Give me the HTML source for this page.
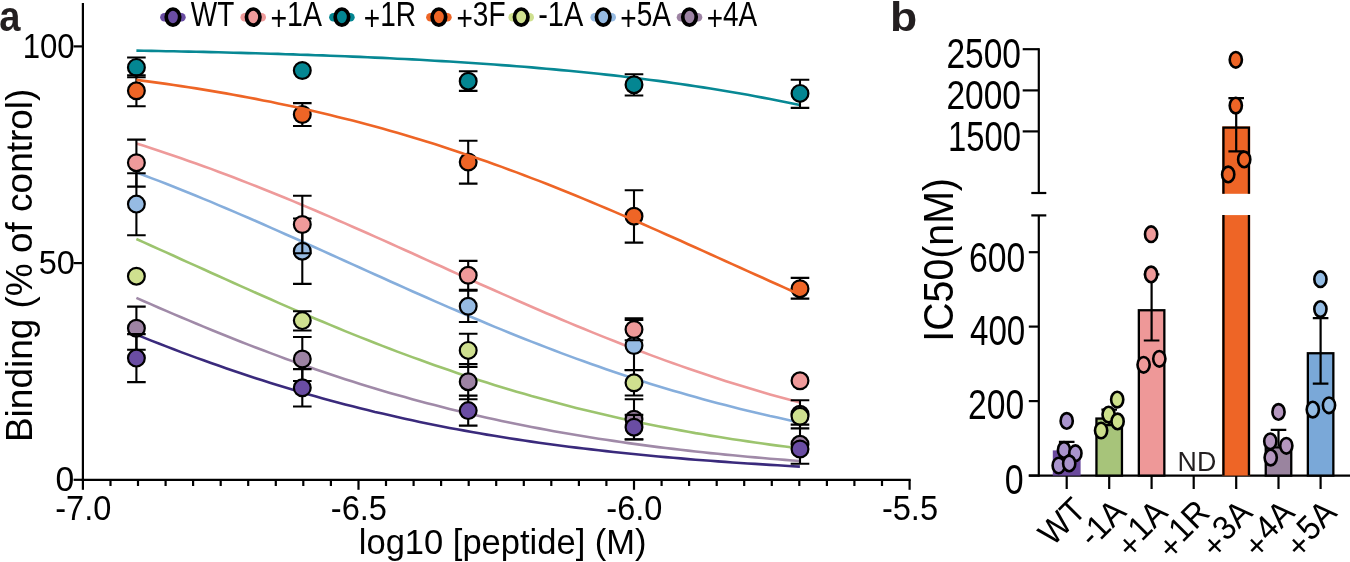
<!DOCTYPE html><html><head><meta charset="utf-8"><style>html,body{margin:0;padding:0;background:#fff;width:1350px;height:562px;overflow:hidden}</style></head><body><svg width="1350" height="562" viewBox="0 0 1350 562" style="display:block;will-change:transform" font-family='"Liberation Sans", sans-serif'>
<rect width="1350" height="562" fill="#fff"/>
<text transform="translate(-0.84,31.18) scale(0.9075,1)" font-size="42.01" fill="#231f20" font-weight="bold">a</text>
<g stroke="#000" stroke-width="2.2" fill="none">
<path d="M82.9,3 V480.9"/>
<path d="M81.8,479.8 H910.7"/>
<path d="M73.6,479.8 H82.9"/>
<path d="M73.6,263.1 H82.9"/>
<path d="M73.6,46.4 H82.9"/>
<path d="M82.9,479.8 V489.8"/>
<path d="M110.5,479.8 V486.0"/>
<path d="M138.0,479.8 V486.0"/>
<path d="M165.6,479.8 V486.0"/>
<path d="M193.1,479.8 V486.0"/>
<path d="M220.7,479.8 V486.0"/>
<path d="M248.2,479.8 V486.0"/>
<path d="M275.8,479.8 V486.0"/>
<path d="M303.3,479.8 V486.0"/>
<path d="M330.9,479.8 V486.0"/>
<path d="M358.5,479.8 V489.8"/>
<path d="M386.0,479.8 V486.0"/>
<path d="M413.6,479.8 V486.0"/>
<path d="M441.1,479.8 V486.0"/>
<path d="M468.7,479.8 V486.0"/>
<path d="M496.2,479.8 V486.0"/>
<path d="M523.8,479.8 V486.0"/>
<path d="M551.3,479.8 V486.0"/>
<path d="M578.9,479.8 V486.0"/>
<path d="M606.4,479.8 V486.0"/>
<path d="M634.0,479.8 V489.8"/>
<path d="M661.6,479.8 V486.0"/>
<path d="M689.1,479.8 V486.0"/>
<path d="M716.7,479.8 V486.0"/>
<path d="M744.2,479.8 V486.0"/>
<path d="M771.8,479.8 V486.0"/>
<path d="M799.3,479.8 V486.0"/>
<path d="M826.9,479.8 V486.0"/>
<path d="M854.4,479.8 V486.0"/>
<path d="M882.0,479.8 V486.0"/>
<path d="M909.6,479.8 V489.8"/>
</g>
<text transform="translate(22.66,57.55) scale(0.8862,1)" font-size="35.19" fill="#000">100</text>
<text transform="translate(38.70,273.96) scale(0.9593,1)" font-size="33.92" fill="#000">50</text>
<text transform="translate(55.45,491.25) scale(0.9697,1)" font-size="34.77" fill="#000">0</text>
<text transform="translate(55.23,520.25) scale(0.9289,1)" font-size="35.05" fill="#000">-7.0</text>
<text transform="translate(330.78,520.25) scale(0.9303,1)" font-size="35.05" fill="#000">-6.5</text>
<text transform="translate(606.33,520.25) scale(0.9289,1)" font-size="35.05" fill="#000">-6.0</text>
<text transform="translate(881.88,520.24) scale(0.9172,1)" font-size="35.56" fill="#000">-5.5</text>
<text transform="translate(358.77,554.09) scale(0.9938,1)" font-size="34.75" fill="#000">log10 [peptide] (M)</text>
<text transform="translate(32.48,442.05) rotate(-90) scale(1.0198,1)" font-size="36.25" fill="#000">Binding (% of control)</text>
<path d="M136.4,297.9 L143.9,301.2 L151.3,304.4 L158.8,307.7 L166.2,310.9 L173.7,314.1 L181.1,317.3 L188.6,320.4 L196.0,323.5 L203.5,326.6 L211.0,329.7 L218.4,332.7 L225.9,335.8 L233.3,338.7 L240.8,341.7 L248.2,344.6 L255.7,347.5 L263.1,350.3 L270.6,353.1 L278.0,355.9 L285.5,358.7 L293.0,361.4 L300.4,364.0 L307.9,366.6 L315.3,369.2 L322.8,371.8 L330.2,374.3 L337.7,376.7 L345.1,379.2 L352.6,381.6 L360.1,383.9 L367.5,386.2 L375.0,388.5 L382.4,390.7 L389.9,392.9 L397.3,395.0 L404.8,397.1 L412.2,399.2 L419.7,401.2 L427.1,403.2 L434.6,405.1 L442.1,407.1 L449.5,408.9 L457.0,410.7 L464.4,412.5 L471.9,414.3 L479.3,416.0 L486.8,417.7 L494.2,419.3 L501.7,420.9 L509.2,422.5 L516.6,424.0 L524.1,425.5 L531.5,427.0 L539.0,428.4 L546.4,429.8 L553.9,431.2 L561.3,432.5 L568.8,433.8 L576.2,435.0 L583.7,436.3 L591.2,437.5 L598.6,438.7 L606.1,439.8 L613.5,440.9 L621.0,442.0 L628.4,443.1 L635.9,444.1 L643.3,445.1 L650.8,446.1 L658.3,447.1 L665.7,448.0 L673.2,448.9 L680.6,449.8 L688.1,450.6 L695.5,451.5 L703.0,452.3 L710.4,453.1 L717.9,453.8 L725.3,454.6 L732.8,455.3 L740.3,456.0 L747.7,456.7 L755.2,457.4 L762.6,458.0 L770.1,458.7 L777.5,459.3 L785.0,459.9 L792.4,460.5 L799.9,461.0" fill="none" stroke="#a08aa8" stroke-width="2.6"/>
<path d="M136.4,172.4 L143.9,175.2 L151.3,178.1 L158.8,180.9 L166.2,183.8 L173.7,186.8 L181.1,189.8 L188.6,192.8 L196.0,195.8 L203.5,198.9 L211.0,201.9 L218.4,205.1 L225.9,208.2 L233.3,211.4 L240.8,214.6 L248.2,217.8 L255.7,221.0 L263.1,224.3 L270.6,227.6 L278.0,230.9 L285.5,234.2 L293.0,237.5 L300.4,240.8 L307.9,244.2 L315.3,247.5 L322.8,250.9 L330.2,254.2 L337.7,257.6 L345.1,261.0 L352.6,264.4 L360.1,267.7 L367.5,271.1 L375.0,274.5 L382.4,277.8 L389.9,281.2 L397.3,284.5 L404.8,287.9 L412.2,291.2 L419.7,294.5 L427.1,297.8 L434.6,301.1 L442.1,304.4 L449.5,307.6 L457.0,310.8 L464.4,314.0 L471.9,317.2 L479.3,320.3 L486.8,323.5 L494.2,326.6 L501.7,329.6 L509.2,332.7 L516.6,335.7 L524.1,338.7 L531.5,341.6 L539.0,344.5 L546.4,347.4 L553.9,350.3 L561.3,353.1 L568.8,355.9 L576.2,358.6 L583.7,361.3 L591.2,364.0 L598.6,366.6 L606.1,369.2 L613.5,371.7 L621.0,374.2 L628.4,376.7 L635.9,379.1 L643.3,381.5 L650.8,383.9 L658.3,386.2 L665.7,388.4 L673.2,390.7 L680.6,392.8 L688.1,395.0 L695.5,397.1 L703.0,399.2 L710.4,401.2 L717.9,403.2 L725.3,405.1 L732.8,407.0 L740.3,408.9 L747.7,410.7 L755.2,412.5 L762.6,414.2 L770.1,416.0 L777.5,417.6 L785.0,419.3 L792.4,420.9 L799.9,422.5" fill="none" stroke="#86aedc" stroke-width="2.6"/>
<path d="M136.4,239.0 L143.9,242.4 L151.3,245.7 L158.8,249.1 L166.2,252.4 L173.7,255.8 L181.1,259.2 L188.6,262.6 L196.0,265.9 L203.5,269.3 L211.0,272.7 L218.4,276.0 L225.9,279.4 L233.3,282.7 L240.8,286.1 L248.2,289.4 L255.7,292.7 L263.1,296.0 L270.6,299.3 L278.0,302.6 L285.5,305.9 L293.0,309.1 L300.4,312.3 L307.9,315.5 L315.3,318.7 L322.8,321.8 L330.2,324.9 L337.7,328.0 L345.1,331.1 L352.6,334.1 L360.1,337.1 L367.5,340.0 L375.0,343.0 L382.4,345.9 L389.9,348.7 L397.3,351.6 L404.8,354.4 L412.2,357.1 L419.7,359.8 L427.1,362.5 L434.6,365.2 L442.1,367.8 L449.5,370.3 L457.0,372.9 L464.4,375.4 L471.9,377.8 L479.3,380.2 L486.8,382.6 L494.2,384.9 L501.7,387.2 L509.2,389.5 L516.6,391.7 L524.1,393.8 L531.5,396.0 L539.0,398.0 L546.4,400.1 L553.9,402.1 L561.3,404.1 L568.8,406.0 L576.2,407.9 L583.7,409.7 L591.2,411.5 L598.6,413.3 L606.1,415.0 L613.5,416.7 L621.0,418.4 L628.4,420.0 L635.9,421.6 L643.3,423.2 L650.8,424.7 L658.3,426.2 L665.7,427.6 L673.2,429.0 L680.6,430.4 L688.1,431.7 L695.5,433.1 L703.0,434.3 L710.4,435.6 L717.9,436.8 L725.3,438.0 L732.8,439.2 L740.3,440.3 L747.7,441.4 L755.2,442.5 L762.6,443.5 L770.1,444.6 L777.5,445.6 L785.0,446.5 L792.4,447.5 L799.9,448.4" fill="none" stroke="#9cc46e" stroke-width="2.6"/>
<path d="M136.4,143.5 L143.9,145.8 L151.3,148.2 L158.8,150.7 L166.2,153.2 L173.7,155.7 L181.1,158.3 L188.6,160.9 L196.0,163.5 L203.5,166.2 L211.0,168.9 L218.4,171.7 L225.9,174.5 L233.3,177.3 L240.8,180.2 L248.2,183.1 L255.7,186.0 L263.1,189.0 L270.6,192.0 L278.0,195.0 L285.5,198.0 L293.0,201.1 L300.4,204.2 L307.9,207.4 L315.3,210.5 L322.8,213.7 L330.2,216.9 L337.7,220.2 L345.1,223.4 L352.6,226.7 L360.1,230.0 L367.5,233.3 L375.0,236.6 L382.4,239.9 L389.9,243.3 L397.3,246.6 L404.8,250.0 L412.2,253.3 L419.7,256.7 L427.1,260.1 L434.6,263.5 L442.1,266.8 L449.5,270.2 L457.0,273.6 L464.4,276.9 L471.9,280.3 L479.3,283.7 L486.8,287.0 L494.2,290.3 L501.7,293.6 L509.2,296.9 L516.6,300.2 L524.1,303.5 L531.5,306.7 L539.0,310.0 L546.4,313.2 L553.9,316.3 L561.3,319.5 L568.8,322.6 L576.2,325.7 L583.7,328.8 L591.2,331.9 L598.6,334.9 L606.1,337.9 L613.5,340.8 L621.0,343.8 L628.4,346.7 L635.9,349.5 L643.3,352.3 L650.8,355.1 L658.3,357.9 L665.7,360.6 L673.2,363.2 L680.6,365.9 L688.1,368.5 L695.5,371.0 L703.0,373.6 L710.4,376.0 L717.9,378.5 L725.3,380.9 L732.8,383.2 L740.3,385.5 L747.7,387.8 L755.2,390.1 L762.6,392.3 L770.1,394.4 L777.5,396.5 L785.0,398.6 L792.4,400.6 L799.9,402.6" fill="none" stroke="#ee9a9a" stroke-width="2.6"/>
<path d="M136.4,334.6 L143.9,337.6 L151.3,340.6 L158.8,343.5 L166.2,346.4 L173.7,349.2 L181.1,352.1 L188.6,354.9 L196.0,357.6 L203.5,360.3 L211.0,363.0 L218.4,365.6 L225.9,368.2 L233.3,370.8 L240.8,373.3 L248.2,375.8 L255.7,378.2 L263.1,380.6 L270.6,383.0 L278.0,385.3 L285.5,387.6 L293.0,389.8 L300.4,392.0 L307.9,394.2 L315.3,396.3 L322.8,398.4 L330.2,400.4 L337.7,402.4 L345.1,404.4 L352.6,406.3 L360.1,408.2 L367.5,410.0 L375.0,411.9 L382.4,413.6 L389.9,415.3 L397.3,417.0 L404.8,418.7 L412.2,420.3 L419.7,421.9 L427.1,423.4 L434.6,424.9 L442.1,426.4 L449.5,427.9 L457.0,429.3 L464.4,430.6 L471.9,432.0 L479.3,433.3 L486.8,434.6 L494.2,435.8 L501.7,437.0 L509.2,438.2 L516.6,439.4 L524.1,440.5 L531.5,441.6 L539.0,442.7 L546.4,443.7 L553.9,444.7 L561.3,445.7 L568.8,446.7 L576.2,447.6 L583.7,448.5 L591.2,449.4 L598.6,450.3 L606.1,451.1 L613.5,452.0 L621.0,452.8 L628.4,453.5 L635.9,454.3 L643.3,455.0 L650.8,455.8 L658.3,456.5 L665.7,457.1 L673.2,457.8 L680.6,458.4 L688.1,459.1 L695.5,459.7 L703.0,460.3 L710.4,460.8 L717.9,461.4 L725.3,461.9 L732.8,462.5 L740.3,463.0 L747.7,463.5 L755.2,463.9 L762.6,464.4 L770.1,464.9 L777.5,465.3 L785.0,465.7 L792.4,466.2 L799.9,466.6" fill="none" stroke="#3a2a7c" stroke-width="2.6"/>
<path d="M136.4,50.6 L143.9,50.7 L151.3,50.9 L158.8,51.0 L166.2,51.2 L173.7,51.3 L181.1,51.5 L188.6,51.6 L196.0,51.8 L203.5,51.9 L211.0,52.1 L218.4,52.3 L225.9,52.5 L233.3,52.7 L240.8,52.9 L248.2,53.1 L255.7,53.3 L263.1,53.5 L270.6,53.7 L278.0,53.9 L285.5,54.2 L293.0,54.4 L300.4,54.7 L307.9,54.9 L315.3,55.2 L322.8,55.4 L330.2,55.7 L337.7,56.0 L345.1,56.3 L352.6,56.6 L360.1,56.9 L367.5,57.3 L375.0,57.6 L382.4,57.9 L389.9,58.3 L397.3,58.7 L404.8,59.0 L412.2,59.4 L419.7,59.8 L427.1,60.2 L434.6,60.7 L442.1,61.1 L449.5,61.5 L457.0,62.0 L464.4,62.5 L471.9,63.0 L479.3,63.5 L486.8,64.0 L494.2,64.5 L501.7,65.1 L509.2,65.6 L516.6,66.2 L524.1,66.8 L531.5,67.4 L539.0,68.1 L546.4,68.7 L553.9,69.4 L561.3,70.1 L568.8,70.8 L576.2,71.5 L583.7,72.2 L591.2,73.0 L598.6,73.8 L606.1,74.6 L613.5,75.4 L621.0,76.3 L628.4,77.2 L635.9,78.1 L643.3,79.0 L650.8,80.0 L658.3,80.9 L665.7,81.9 L673.2,83.0 L680.6,84.0 L688.1,85.1 L695.5,86.2 L703.0,87.4 L710.4,88.5 L717.9,89.7 L725.3,91.0 L732.8,92.2 L740.3,93.5 L747.7,94.8 L755.2,96.2 L762.6,97.6 L770.1,99.0 L777.5,100.5 L785.0,102.0 L792.4,103.5 L799.9,105.0" fill="none" stroke="#078894" stroke-width="2.6"/>
<path d="M136.4,306.6 V349.8 M127.1,306.6 H145.7 M127.1,349.8 H145.7" stroke="#000" stroke-width="2.1" fill="none"/>
<circle cx="136.4" cy="328.2" r="8.4" fill="#9d83a3" stroke="#000" stroke-width="2.2"/>
<path d="M302.3,337.0 V381.0 M293.0,337.0 H311.6 M293.0,381.0 H311.6" stroke="#000" stroke-width="2.1" fill="none"/>
<circle cx="302.3" cy="359.0" r="8.4" fill="#9d83a3" stroke="#000" stroke-width="2.2"/>
<path d="M468.2,364.1 V399.3 M458.9,364.1 H477.5 M458.9,399.3 H477.5" stroke="#000" stroke-width="2.1" fill="none"/>
<circle cx="468.2" cy="381.7" r="8.4" fill="#9d83a3" stroke="#000" stroke-width="2.2"/>
<path d="M634.0,399.2 V439.2 M624.7,399.2 H643.3 M624.7,439.2 H643.3" stroke="#000" stroke-width="2.1" fill="none"/>
<circle cx="634.0" cy="419.2" r="8.4" fill="#9d83a3" stroke="#000" stroke-width="2.2"/>
<path d="M800.0,424.6 V463.7 M790.7,424.6 H809.3 M790.7,463.7 H809.3" stroke="#000" stroke-width="2.1" fill="none"/>
<circle cx="800.0" cy="444.3" r="8.4" fill="#9d83a3" stroke="#000" stroke-width="2.2"/>
<path d="M136.4,173.3 V235.3 M127.1,173.3 H145.7 M127.1,235.3 H145.7" stroke="#000" stroke-width="2.1" fill="none"/>
<circle cx="136.4" cy="204.1" r="8.4" fill="#96bbe3" stroke="#000" stroke-width="2.2"/>
<path d="M302.3,218.5 V283.9 M293.0,218.5 H311.6 M293.0,283.9 H311.6" stroke="#000" stroke-width="2.1" fill="none"/>
<circle cx="302.3" cy="251.2" r="8.4" fill="#96bbe3" stroke="#000" stroke-width="2.2"/>
<path d="M468.2,290.6 V322.0 M458.9,290.6 H477.5 M458.9,322.0 H477.5" stroke="#000" stroke-width="2.1" fill="none"/>
<circle cx="468.2" cy="306.3" r="8.4" fill="#96bbe3" stroke="#000" stroke-width="2.2"/>
<path d="M634.0,320.0 V370.0 M624.7,320.0 H643.3 M624.7,370.0 H643.3" stroke="#000" stroke-width="2.1" fill="none"/>
<circle cx="634.0" cy="345.5" r="8.4" fill="#96bbe3" stroke="#000" stroke-width="2.2"/>
<path d="M800.0,400.2 V428.4 M790.7,400.2 H809.3 M790.7,428.4 H809.3" stroke="#000" stroke-width="2.1" fill="none"/>
<circle cx="800.0" cy="414.3" r="8.4" fill="#96bbe3" stroke="#000" stroke-width="2.2"/>
<circle cx="136.4" cy="276.2" r="8.4" fill="#cfe08f" stroke="#000" stroke-width="2.2"/>
<path d="M302.3,311.3 V330.5 M293.0,311.3 H311.6 M293.0,330.5 H311.6" stroke="#000" stroke-width="2.1" fill="none"/>
<circle cx="302.3" cy="320.6" r="8.4" fill="#cfe08f" stroke="#000" stroke-width="2.2"/>
<path d="M468.2,333.8 V367.0 M458.9,333.8 H477.5 M458.9,367.0 H477.5" stroke="#000" stroke-width="2.1" fill="none"/>
<circle cx="468.2" cy="350.4" r="8.4" fill="#cfe08f" stroke="#000" stroke-width="2.2"/>
<path d="M634.0,370.1 V395.5 M624.7,370.1 H643.3 M624.7,395.5 H643.3" stroke="#000" stroke-width="2.1" fill="none"/>
<circle cx="634.0" cy="382.8" r="8.4" fill="#cfe08f" stroke="#000" stroke-width="2.2"/>
<circle cx="800.0" cy="416.3" r="8.4" fill="#cfe08f" stroke="#000" stroke-width="2.2"/>
<path d="M136.4,57.5 V77.3 M127.1,57.5 H145.7 M127.1,77.3 H145.7" stroke="#000" stroke-width="2.1" fill="none"/>
<circle cx="136.4" cy="67.4" r="8.4" fill="#048692" stroke="#000" stroke-width="2.2"/>
<circle cx="302.3" cy="70.5" r="8.4" fill="#048692" stroke="#000" stroke-width="2.2"/>
<path d="M468.2,71.2 V90.9 M458.9,71.2 H477.5 M458.9,90.9 H477.5" stroke="#000" stroke-width="2.1" fill="none"/>
<circle cx="468.2" cy="81.2" r="8.4" fill="#048692" stroke="#000" stroke-width="2.2"/>
<path d="M634.0,74.2 V95.5 M624.7,74.2 H643.3 M624.7,95.5 H643.3" stroke="#000" stroke-width="2.1" fill="none"/>
<circle cx="634.0" cy="84.7" r="8.4" fill="#048692" stroke="#000" stroke-width="2.2"/>
<path d="M800.0,79.8 V107.9 M790.7,79.8 H809.3 M790.7,107.9 H809.3" stroke="#000" stroke-width="2.1" fill="none"/>
<circle cx="800.0" cy="93.4" r="8.4" fill="#048692" stroke="#000" stroke-width="2.2"/>
<path d="M136.4,139.6 V186.6 M127.1,139.6 H145.7 M127.1,186.6 H145.7" stroke="#000" stroke-width="2.1" fill="none"/>
<circle cx="136.4" cy="162.7" r="8.4" fill="#ef9a9a" stroke="#000" stroke-width="2.2"/>
<path d="M302.3,195.7 V253.3 M293.0,195.7 H311.6 M293.0,253.3 H311.6" stroke="#000" stroke-width="2.1" fill="none"/>
<circle cx="302.3" cy="224.5" r="8.4" fill="#ef9a9a" stroke="#000" stroke-width="2.2"/>
<path d="M468.2,260.9 V289.7 M458.9,260.9 H477.5 M458.9,289.7 H477.5" stroke="#000" stroke-width="2.1" fill="none"/>
<circle cx="468.2" cy="275.3" r="8.4" fill="#ef9a9a" stroke="#000" stroke-width="2.2"/>
<path d="M634.0,318.2 V340.2 M624.7,318.2 H643.3 M624.7,340.2 H643.3" stroke="#000" stroke-width="2.1" fill="none"/>
<circle cx="634.0" cy="329.5" r="8.4" fill="#ef9a9a" stroke="#000" stroke-width="2.2"/>
<circle cx="800.0" cy="380.8" r="8.4" fill="#ef9a9a" stroke="#000" stroke-width="2.2"/>
<path d="M136.4,334.1 V382.1 M127.1,334.1 H145.7 M127.1,382.1 H145.7" stroke="#000" stroke-width="2.1" fill="none"/>
<circle cx="136.4" cy="358.1" r="8.4" fill="#6a4da3" stroke="#000" stroke-width="2.2"/>
<path d="M302.3,369.1 V406.5 M293.0,369.1 H311.6 M293.0,406.5 H311.6" stroke="#000" stroke-width="2.1" fill="none"/>
<circle cx="302.3" cy="387.8" r="8.4" fill="#6a4da3" stroke="#000" stroke-width="2.2"/>
<path d="M468.2,395.6 V425.6 M458.9,395.6 H477.5 M458.9,425.6 H477.5" stroke="#000" stroke-width="2.1" fill="none"/>
<circle cx="468.2" cy="410.6" r="8.4" fill="#6a4da3" stroke="#000" stroke-width="2.2"/>
<path d="M634.0,414.9 V439.5 M624.7,414.9 H643.3 M624.7,439.5 H643.3" stroke="#000" stroke-width="2.1" fill="none"/>
<circle cx="634.0" cy="427.2" r="8.4" fill="#6a4da3" stroke="#000" stroke-width="2.2"/>
<circle cx="800.0" cy="449.0" r="8.4" fill="#6a4da3" stroke="#000" stroke-width="2.2"/>
<path d="M136.4,75.3 V106.3 M127.1,75.3 H145.7 M127.1,106.3 H145.7" stroke="#000" stroke-width="2.1" fill="none"/>
<circle cx="136.4" cy="90.8" r="8.4" fill="#ee6526" stroke="#000" stroke-width="2.2"/>
<path d="M302.3,103.1 V126.0 M293.0,103.1 H311.6 M293.0,126.0 H311.6" stroke="#000" stroke-width="2.1" fill="none"/>
<circle cx="302.3" cy="114.5" r="8.4" fill="#ee6526" stroke="#000" stroke-width="2.2"/>
<path d="M468.2,140.7 V183.6 M458.9,140.7 H477.5 M458.9,183.6 H477.5" stroke="#000" stroke-width="2.1" fill="none"/>
<circle cx="468.2" cy="162.0" r="8.4" fill="#ee6526" stroke="#000" stroke-width="2.2"/>
<path d="M634.0,190.2 V242.6 M624.7,190.2 H643.3 M624.7,242.6 H643.3" stroke="#000" stroke-width="2.1" fill="none"/>
<circle cx="634.0" cy="216.2" r="8.4" fill="#ee6526" stroke="#000" stroke-width="2.2"/>
<path d="M800.0,277.9 V298.6 M790.7,277.9 H809.3 M790.7,298.6 H809.3" stroke="#000" stroke-width="2.1" fill="none"/>
<circle cx="800.0" cy="288.7" r="8.4" fill="#ee6526" stroke="#000" stroke-width="2.2"/>
<path d="M136.4,79.9 L143.9,80.9 L151.3,81.9 L158.8,82.9 L166.2,83.9 L173.7,85.0 L181.1,86.1 L188.6,87.3 L196.0,88.4 L203.5,89.6 L211.0,90.9 L218.4,92.1 L225.9,93.4 L233.3,94.7 L240.8,96.1 L248.2,97.5 L255.7,98.9 L263.1,100.4 L270.6,101.8 L278.0,103.4 L285.5,104.9 L293.0,106.5 L300.4,108.1 L307.9,109.8 L315.3,111.5 L322.8,113.3 L330.2,115.0 L337.7,116.9 L345.1,118.7 L352.6,120.6 L360.1,122.6 L367.5,124.5 L375.0,126.5 L382.4,128.6 L389.9,130.7 L397.3,132.8 L404.8,135.0 L412.2,137.2 L419.7,139.5 L427.1,141.8 L434.6,144.1 L442.1,146.5 L449.5,148.9 L457.0,151.4 L464.4,153.9 L471.9,156.4 L479.3,159.0 L486.8,161.6 L494.2,164.2 L501.7,166.9 L509.2,169.7 L516.6,172.4 L524.1,175.2 L531.5,178.1 L539.0,180.9 L546.4,183.8 L553.9,186.8 L561.3,189.8 L568.8,192.8 L576.2,195.8 L583.7,198.9 L591.2,202.0 L598.6,205.1 L606.1,208.2 L613.5,211.4 L621.0,214.6 L628.4,217.8 L635.9,221.0 L643.3,224.3 L650.8,227.6 L658.3,230.9 L665.7,234.2 L673.2,237.5 L680.6,240.8 L688.1,244.2 L695.5,247.5 L703.0,250.9 L710.4,254.2 L717.9,257.6 L725.3,261.0 L732.8,264.4 L740.3,267.7 L747.7,271.1 L755.2,274.5 L762.6,277.8 L770.1,281.2 L777.5,284.5 L785.0,287.9 L792.4,291.2 L799.9,294.5" fill="none" stroke="#ee6526" stroke-width="2.6"/>
<path d="M164.4,17.2 H181.4" stroke="#6a4da3" stroke-width="8.6" stroke-linecap="round"/>
<ellipse cx="172.95" cy="17.05" rx="6.75" ry="8.05" fill="#6a4da3" stroke="#000" stroke-width="3.7"/>
<text transform="translate(190.76,26.07) scale(0.8008,1)" font-size="34.91" fill="#000">WT</text>
<path d="M244.7,17.2 H261.7" stroke="#ef9a9a" stroke-width="8.6" stroke-linecap="round"/>
<ellipse cx="253.2" cy="17.05" rx="6.75" ry="8.05" fill="#ef9a9a" stroke="#000" stroke-width="3.7"/>
<text transform="translate(270.45,26.07) scale(0.8166,1)" font-size="34.91" fill="#000"><tspan dy="3.49">+</tspan><tspan dy="-3.49">1A</tspan></text>
<path d="M333.4,17.2 H350.4" stroke="#048692" stroke-width="8.6" stroke-linecap="round"/>
<ellipse cx="341.9" cy="17.05" rx="6.75" ry="8.05" fill="#048692" stroke="#000" stroke-width="3.7"/>
<text transform="translate(363.87,26.07) scale(0.8039,1)" font-size="34.91" fill="#000"><tspan dy="3.49">+</tspan><tspan dy="-3.49">1R</tspan></text>
<path d="M430.4,17.2 H447.4" stroke="#ee6526" stroke-width="8.6" stroke-linecap="round"/>
<ellipse cx="438.9" cy="17.05" rx="6.75" ry="8.05" fill="#ee6526" stroke="#000" stroke-width="3.7"/>
<text transform="translate(456.47,26.42) scale(0.8029,1)" font-size="34.91" fill="#000"><tspan dy="3.49">+</tspan><tspan dy="-3.49">3F</tspan></text>
<path d="M512.7,17.2 H529.7" stroke="#cfe08f" stroke-width="8.6" stroke-linecap="round"/>
<ellipse cx="521.2" cy="17.05" rx="6.75" ry="8.05" fill="#cfe08f" stroke="#000" stroke-width="3.7"/>
<text transform="translate(538.20,26.07) scale(0.8290,1)" font-size="34.91" fill="#000">-1A</text>
<path d="M594.7,17.2 H611.7" stroke="#96bbe3" stroke-width="8.6" stroke-linecap="round"/>
<ellipse cx="603.2" cy="17.05" rx="6.75" ry="8.05" fill="#96bbe3" stroke="#000" stroke-width="3.7"/>
<text transform="translate(620.37,26.07) scale(0.8036,1)" font-size="34.91" fill="#000"><tspan dy="3.49">+</tspan><tspan dy="-3.49">5A</tspan></text>
<path d="M681.0,17.2 H698.0" stroke="#9d83a3" stroke-width="8.6" stroke-linecap="round"/>
<ellipse cx="689.5" cy="17.05" rx="6.75" ry="8.05" fill="#9d83a3" stroke="#000" stroke-width="3.7"/>
<text transform="translate(706.67,26.07) scale(0.8003,1)" font-size="34.91" fill="#000"><tspan dy="3.49">+</tspan><tspan dy="-3.49">4A</tspan></text>
<text transform="translate(890.00,30.89) scale(1.0808,1)" font-size="41.22" fill="#231f20" font-weight="bold">b</text>
<g stroke="#000" stroke-width="2.2" fill="none">
<path d="M1038.8,48.2 V193"/>
<path d="M1031.3,193 H1046.3"/>
<path d="M1038.8,215.4 V476.7"/>
<path d="M1031.3,215.4 H1046.3"/>
<path d="M1022.7,49.2 H1038.8"/>
<path d="M1022.7,90.4 H1038.8"/>
<path d="M1022.7,131.4 H1038.8"/>
<path d="M1028.8,475.6 H1038.8"/>
<path d="M1028.8,401.1 H1038.8"/>
<path d="M1028.8,326.6 H1038.8"/>
<path d="M1028.8,252.2 H1038.8"/>
<path d="M1028.8,475.6 H1350"/>
<path d="M1066.7,475.6 V489"/>
<path d="M1109.2,475.6 V489"/>
<path d="M1151.6,475.6 V489"/>
<path d="M1193.7,475.6 V489"/>
<path d="M1236.2,475.6 V489"/>
<path d="M1278.5,475.6 V489"/>
<path d="M1320.6,475.6 V489"/>
</g>
<text transform="translate(946.42,67.68) scale(0.7909,1)" font-size="42.40" fill="#000">2500</text>
<text transform="translate(946.42,109.29) scale(0.8098,1)" font-size="41.41" fill="#000">2000</text>
<text transform="translate(947.94,150.88) scale(0.7746,1)" font-size="42.40" fill="#000">1500</text>
<text transform="translate(969.01,271.77) scale(0.7825,1)" font-size="43.11" fill="#000">600</text>
<text transform="translate(969.95,344.78) scale(0.7846,1)" font-size="42.26" fill="#000">400</text>
<text transform="translate(968.02,418.57) scale(0.7811,1)" font-size="43.11" fill="#000">200</text>
<text transform="translate(1004.84,494.38) scale(0.8001,1)" font-size="42.40" fill="#000">0</text>
<text transform="translate(952.92,341.63) rotate(-90) scale(0.9174,1)" font-size="42.79" fill="#000">IC50(nM)</text>
<text transform="translate(1177.59,471.10) scale(0.9585,1)" font-size="27.93" fill="#231f20">ND</text>
<rect x="1052.8" y="450.4" width="27.8" height="25.2" fill="#6b4a9e"/>
<rect x="1096.45" y="418.55" width="25.50" height="57.05" fill="#a7c47a" stroke="#000" stroke-width="2.3"/>
<rect x="1138.85" y="310.25" width="25.50" height="165.35" fill="#ee9898" stroke="#000" stroke-width="2.3"/>
<rect x="1222.3" y="126.4" width="27.8" height="67.4" fill="#ee6526"/>
<rect x="1222.3" y="215.1" width="27.8" height="260.5" fill="#ee6526"/>
<path d="M1223.45,193.8 V127.55 H1248.95 V193.8 M1223.45,215.1 V475.6 M1248.95,215.1 V475.6" fill="none" stroke="#000" stroke-width="2.3"/>
<rect x="1265.75" y="447.35" width="25.50" height="28.25" fill="#9a849f" stroke="#000" stroke-width="2.3"/>
<rect x="1307.85" y="353.25" width="25.50" height="122.35" fill="#7aa8d8" stroke="#000" stroke-width="2.3"/>
<g stroke="#000" stroke-width="2.2" fill="none">
<path d="M1066.7,441.8 V459.0 M1058.9,441.8 H1074.5 M1058.9,459.0 H1074.5"/>
<path d="M1109.2,409.6 V425.2 M1101.4,409.6 H1117.0 M1101.4,425.2 H1117.0"/>
<path d="M1151.6,274.4 V340.5 M1143.8,274.4 H1159.4 M1143.8,340.5 H1159.4"/>
<path d="M1236.2,98.2 V151.4 M1228.4,98.2 H1244.0 M1228.4,151.4 H1244.0"/>
<path d="M1278.5,429.8 V446.5 M1270.7,429.8 H1286.3"/>
<path d="M1320.6,318.1 V383.6 M1312.8,318.1 H1328.4 M1312.8,383.6 H1328.4"/>
</g>
<ellipse cx="1066.7" cy="420.9" rx="6.1" ry="7.8" fill="#a994cc" stroke="#000" stroke-width="2.6"/>
<ellipse cx="1064.0" cy="449.9" rx="6.1" ry="7.8" fill="#a994cc" stroke="#000" stroke-width="2.6"/>
<ellipse cx="1075.4" cy="453.2" rx="6.1" ry="7.8" fill="#a994cc" stroke="#000" stroke-width="2.6"/>
<ellipse cx="1058.7" cy="465.5" rx="6.1" ry="7.8" fill="#a994cc" stroke="#000" stroke-width="2.6"/>
<ellipse cx="1069.2" cy="463.4" rx="6.1" ry="7.8" fill="#a994cc" stroke="#000" stroke-width="2.6"/>
<ellipse cx="1117.2" cy="399.6" rx="6.1" ry="7.8" fill="#cde08c" stroke="#000" stroke-width="2.6"/>
<ellipse cx="1108.6" cy="414.6" rx="6.1" ry="7.8" fill="#cde08c" stroke="#000" stroke-width="2.6"/>
<ellipse cx="1117.6" cy="421.4" rx="6.1" ry="7.8" fill="#cde08c" stroke="#000" stroke-width="2.6"/>
<ellipse cx="1101.1" cy="430.5" rx="6.1" ry="7.8" fill="#cde08c" stroke="#000" stroke-width="2.6"/>
<ellipse cx="1151.1" cy="234.2" rx="6.1" ry="7.8" fill="#ef9a9a" stroke="#000" stroke-width="2.6"/>
<ellipse cx="1151.1" cy="274.4" rx="6.1" ry="7.8" fill="#ef9a9a" stroke="#000" stroke-width="2.6"/>
<ellipse cx="1159.3" cy="358.8" rx="6.1" ry="7.8" fill="#ef9a9a" stroke="#000" stroke-width="2.6"/>
<ellipse cx="1143.6" cy="364.8" rx="6.1" ry="7.8" fill="#ef9a9a" stroke="#000" stroke-width="2.6"/>
<ellipse cx="1235.8" cy="59.8" rx="6.1" ry="7.8" fill="#ee6526" stroke="#000" stroke-width="2.6"/>
<ellipse cx="1235.8" cy="105.6" rx="6.1" ry="7.8" fill="#ee6526" stroke="#000" stroke-width="2.6"/>
<ellipse cx="1244.2" cy="159.4" rx="6.1" ry="7.8" fill="#ee6526" stroke="#000" stroke-width="2.6"/>
<ellipse cx="1228.2" cy="174.4" rx="6.1" ry="7.8" fill="#ee6526" stroke="#000" stroke-width="2.6"/>
<ellipse cx="1278.5" cy="411.9" rx="6.1" ry="7.8" fill="#b597bf" stroke="#000" stroke-width="2.6"/>
<ellipse cx="1270.3" cy="441.3" rx="6.1" ry="7.8" fill="#b597bf" stroke="#000" stroke-width="2.6"/>
<ellipse cx="1286.3" cy="445.8" rx="6.1" ry="7.8" fill="#b597bf" stroke="#000" stroke-width="2.6"/>
<ellipse cx="1270.7" cy="457.6" rx="6.1" ry="7.8" fill="#b597bf" stroke="#000" stroke-width="2.6"/>
<ellipse cx="1320.4" cy="279.2" rx="6.1" ry="7.8" fill="#94bce4" stroke="#000" stroke-width="2.6"/>
<ellipse cx="1320.4" cy="309.1" rx="6.1" ry="7.8" fill="#94bce4" stroke="#000" stroke-width="2.6"/>
<ellipse cx="1312.8" cy="409.6" rx="6.1" ry="7.8" fill="#94bce4" stroke="#000" stroke-width="2.6"/>
<ellipse cx="1329.0" cy="405.3" rx="6.1" ry="7.8" fill="#94bce4" stroke="#000" stroke-width="2.6"/>
<text transform="translate(1087.9,512.0) rotate(-45) scale(0.94,1)" font-size="34.2" text-anchor="end">WT</text>
<text transform="translate(1128.0,513.5) rotate(-45) scale(0.94,1)" font-size="34.2" text-anchor="end">-1A</text>
<text transform="translate(1170.4,513.5) rotate(-45) scale(0.94,1)" font-size="34.2" text-anchor="end"><tspan dx="-1.4" dy="5.4">+</tspan><tspan dx="1.4" dy="-5.4">1A</tspan></text>
<text transform="translate(1212.5,513.5) rotate(-45) scale(0.94,1)" font-size="34.2" text-anchor="end"><tspan dx="-1.4" dy="5.4">+</tspan><tspan dx="1.4" dy="-5.4">1R</tspan></text>
<text transform="translate(1255.0,513.5) rotate(-45) scale(0.94,1)" font-size="34.2" text-anchor="end"><tspan dx="-1.4" dy="5.4">+</tspan><tspan dx="1.4" dy="-5.4">3A</tspan></text>
<text transform="translate(1297.3,513.5) rotate(-45) scale(0.94,1)" font-size="34.2" text-anchor="end"><tspan dx="-1.4" dy="5.4">+</tspan><tspan dx="1.4" dy="-5.4">4A</tspan></text>
<text transform="translate(1339.4,513.5) rotate(-45) scale(0.94,1)" font-size="34.2" text-anchor="end"><tspan dx="-1.4" dy="5.4">+</tspan><tspan dx="1.4" dy="-5.4">5A</tspan></text>
</svg></body></html>
